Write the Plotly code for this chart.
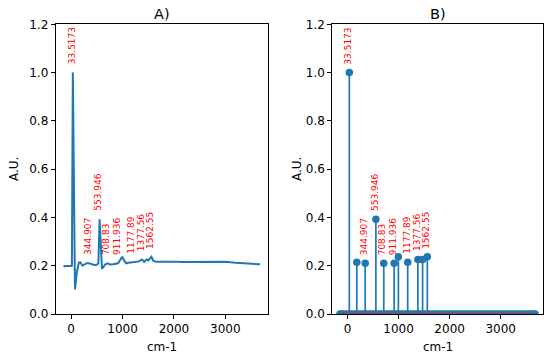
import plotly.graph_objects as go

# ---- data ----
wavenumber = [-150, -100, -50, 0, 15, 33.5173, 55, 75, 110, 150, 180, 220, 260, 300,
              344.907, 400, 450, 500, 530, 553.946, 575, 600, 630, 660, 708.83, 760,
              820, 870, 911.936, 950, 995, 1030, 1070, 1120, 1177.89, 1250, 1320,
              1377.56, 1420, 1470, 1500, 1562.55, 1600, 1650, 1800, 2000, 2200, 2400,
              2600, 2800, 2900, 3000, 3200, 3400, 3600, 3675]
intensity = [0.198, 0.198, 0.198, 0.198, 0.200, 1.000, 0.450, 0.102, 0.170, 0.213, 0.214,
             0.200, 0.205, 0.210, 0.210, 0.205, 0.203, 0.204, 0.210, 0.392, 0.300, 0.187,
             0.195, 0.205, 0.210, 0.205, 0.206, 0.208, 0.210, 0.222, 0.237, 0.222, 0.210,
             0.212, 0.214, 0.215, 0.218, 0.226, 0.216, 0.226, 0.222, 0.237, 0.220, 0.216,
             0.217, 0.216, 0.215, 0.215, 0.216, 0.217, 0.218, 0.216, 0.212, 0.210, 0.207,
             0.206]

peak_x = [33.5173, 180, 344.907, 553.946, 708.83, 911.936, 995, 1177.89, 1377.56, 1470, 1562.55]
peak_y = [1.000, 0.214, 0.210, 0.392, 0.210, 0.210, 0.237, 0.214, 0.226, 0.226, 0.237]

label_text = ["33.5173", "344.907", "553.946", "708.83", "911.936", "1177.89", "1377.56", "1562.55"]
label_x = [33.5173, 344.907, 553.946, 708.83, 911.936, 1177.89, 1377.56, 1562.55]
label_y = [1.000, 0.210, 0.392, 0.210, 0.210, 0.214, 0.226, 0.237]

x_ticks = [0, 1000, 2000, 3000]
titles = ["A)", "B)"]
x_title = "cm-1"
y_title = "A.U."

BLUE = "#1f77b4"
FONT = "DejaVu Sans"
W, H = 550, 358


def px_x(p):
    return min(1.0, max(0.0, p / W))


def px_y(p):
    return min(1.0, max(0.0, (H - p) / H))


fig = go.Figure()

# Panel A: spectrum line
fig.add_trace(go.Scatter(x=wavenumber, y=intensity, mode="lines",
                         line=dict(color=BLUE, width=2), xaxis="x", yaxis="y"))

# Panel B: zero baseline markers band
fig.add_trace(go.Scatter(x=[wavenumber[0], wavenumber[-1]], y=[0, 0], mode="lines+markers",
                         line=dict(color=BLUE, width=7.5),
                         marker=dict(color=BLUE, size=7.5),
                         xaxis="x2", yaxis="y2"))
# stems
sx, sy = [], []
for px, py in zip(peak_x, peak_y):
    sx += [px, px, None]
    sy += [0, py, None]
fig.add_trace(go.Scatter(x=sx, y=sy, mode="lines", line=dict(color=BLUE, width=1.7),
                         xaxis="x2", yaxis="y2"))
# stem heads
fig.add_trace(go.Scatter(x=peak_x, y=peak_y, mode="markers",
                         marker=dict(color=BLUE, size=7.5),
                         xaxis="x2", yaxis="y2"))
# red baseline
fig.add_trace(go.Scatter(x=[wavenumber[0], wavenumber[-1]], y=[0, 0], mode="lines",
                         line=dict(color="#d62728", width=1.5),
                         xaxis="x2", yaxis="y2"))

annotations = []
for xr, yr in (("x", "y"), ("x2", "y2")):
    for t, lx, ly in zip(label_text, label_x, label_y):
        annotations.append(dict(text=t, x=lx, y=ly + 0.03, xref=xr, yref=yr,
                                textangle=-90, xanchor="center", yanchor="bottom",
                                xshift=-1.5, showarrow=False, borderpad=0,
                                font=dict(family=FONT, size=9, color="red")))

dom_a = [px_x(55.7), px_x(268)]
dom_b = [px_x(332.3), px_x(543)]
dom_y = [px_y(314), px_y(24.3)]

for cxp, ttl in ((162, titles[0]), (438, titles[1])):
    annotations.append(dict(text=ttl, x=px_x(cxp), y=px_y(13.5), xref="paper", yref="paper",
                            showarrow=False, xanchor="center", yanchor="middle",
                            font=dict(family=FONT, size=14.5, color="black")))
    annotations.append(dict(text=x_title, x=px_x(cxp), y=px_y(347), xref="paper", yref="paper",
                            showarrow=False, xanchor="center", yanchor="middle",
                            font=dict(family=FONT, size=12, color="black")))
for axp in (14, 297):
    annotations.append(dict(text=y_title, x=px_x(axp), y=px_y(169), xref="paper", yref="paper",
                            showarrow=False, textangle=-90, xanchor="center", yanchor="middle",
                            font=dict(family=FONT, size=12, color="black")))

xcommon = dict(range=[-300, 3830], tickvals=x_ticks, ticks="outside", ticklen=4, tickwidth=1,
               tickcolor="black", showline=True, linecolor="black", linewidth=1, mirror=True,
               showgrid=False, zeroline=False, automargin=False,
               tickfont=dict(family=FONT, size=12, color="black"))
ycommon = dict(range=[0, 1.2], dtick=0.2, tick0=0, tickformat=".1f", ticks="outside", ticklen=4,
               tickwidth=1, tickcolor="black", showline=True, linecolor="black", linewidth=1,
               mirror=True, showgrid=False, zeroline=False, automargin=False,
               tickfont=dict(family=FONT, size=12, color="black"), domain=dom_y)

fig.update_layout(
    width=W, height=H, margin=dict(l=0, r=0, t=0, b=0, autoexpand=False),
    paper_bgcolor="white", plot_bgcolor="white", showlegend=False,
    font=dict(family=FONT, size=12, color="black"),
    xaxis=dict(domain=dom_a, anchor="y", **xcommon),
    yaxis=dict(anchor="x", **ycommon),
    xaxis2=dict(domain=dom_b, anchor="y2", **xcommon),
    yaxis2=dict(anchor="x2", **ycommon),
    annotations=annotations,
)

fig.write_html("out.html", config={"displayModeBar": False},
               post_script="document.body.style.margin='0';document.body.style.overflow='hidden';")
